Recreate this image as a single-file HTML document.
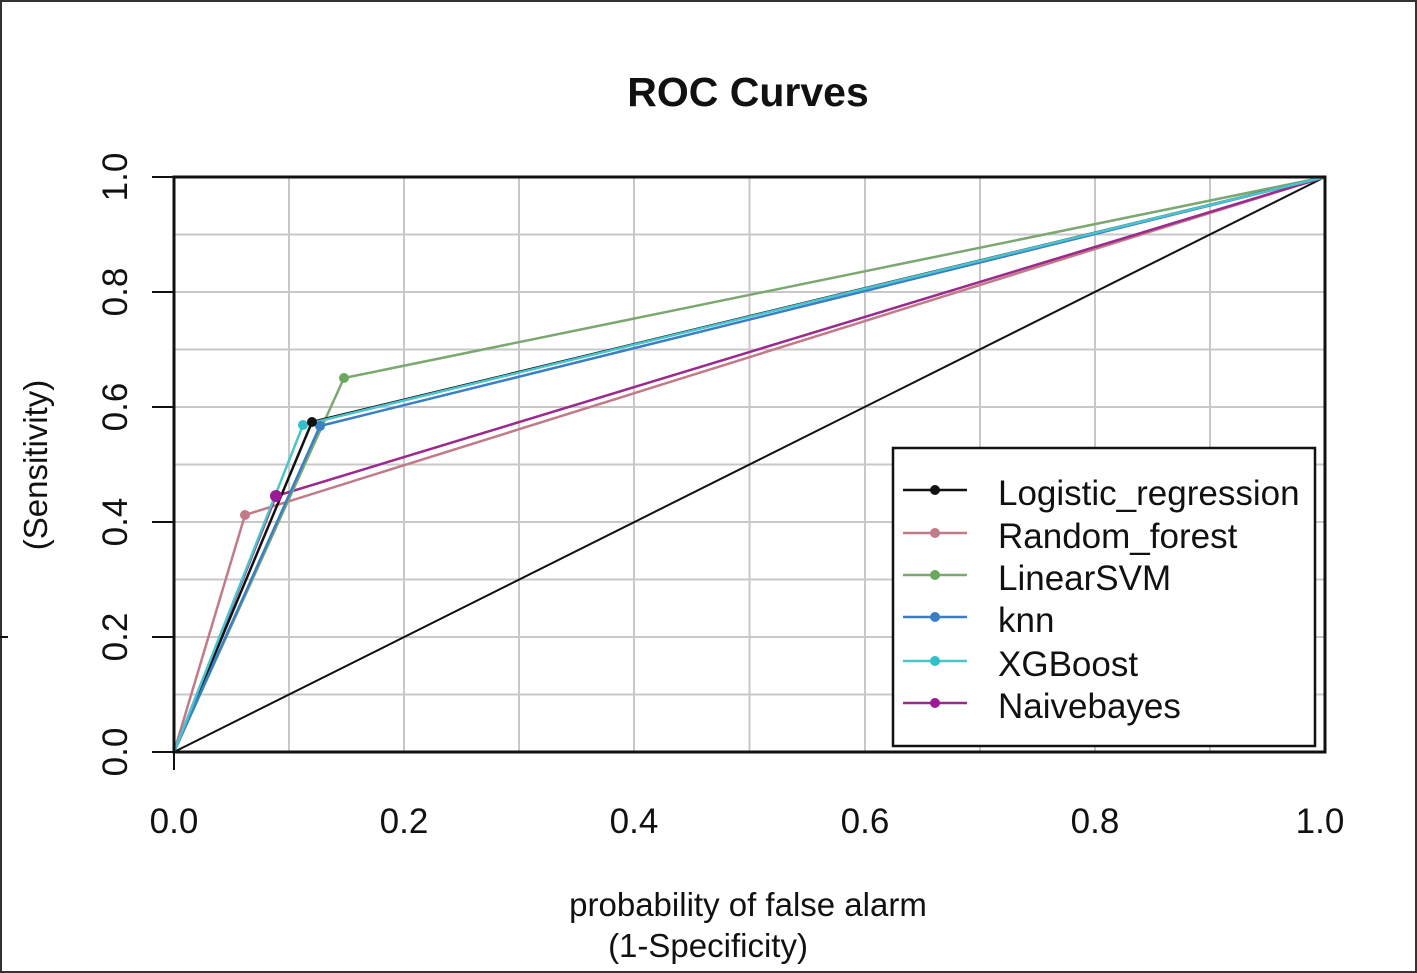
<!DOCTYPE html>
<html><head><meta charset="utf-8"><style>
html,body{margin:0;padding:0;background:#fff}
svg{display:block}
text{font-family:"Liberation Sans",Arial,sans-serif;fill:#111}
</style></head><body>
<svg width="1417" height="973" viewBox="0 0 1417 973" xmlns="http://www.w3.org/2000/svg">
<rect x="1" y="1" width="1415" height="971" fill="#fff" stroke="#333" stroke-width="2"/>
<text x="748" y="106" font-size="41" font-weight="bold" text-anchor="middle">ROC Curves</text>
<g stroke="#c8c8c8" stroke-width="2">
<line x1="289" y1="177" x2="289" y2="752"/><line x1="404" y1="177" x2="404" y2="752"/>
<line x1="519" y1="177" x2="519" y2="752"/><line x1="634" y1="177" x2="634" y2="752"/>
<line x1="749.5" y1="177" x2="749.5" y2="752"/><line x1="865" y1="177" x2="865" y2="752"/>
<line x1="980" y1="177" x2="980" y2="752"/><line x1="1095" y1="177" x2="1095" y2="752"/>
<line x1="1210" y1="177" x2="1210" y2="752"/>
<line x1="174" y1="234.5" x2="1325" y2="234.5"/><line x1="174" y1="292" x2="1325" y2="292"/>
<line x1="174" y1="349.5" x2="1325" y2="349.5"/><line x1="174" y1="407" x2="1325" y2="407"/>
<line x1="174" y1="464.5" x2="1325" y2="464.5"/><line x1="174" y1="522" x2="1325" y2="522"/>
<line x1="174" y1="579.5" x2="1325" y2="579.5"/><line x1="174" y1="637" x2="1325" y2="637"/>
<line x1="174" y1="694.5" x2="1325" y2="694.5"/>
</g>
<line x1="174" y1="752" x2="1325" y2="177" stroke="#111" stroke-width="2"/>
<g fill="none" stroke-width="2.5">
<polyline points="174,752 245,515 1325,177" stroke="#c27a88"/>
<polyline points="174,752 276,496 1325,177" stroke="#9b2a8c"/>
<polyline points="174,752 344,378 1325,177" stroke="#7aa870"/>
<polyline points="174,752 312,422 1325,177" stroke="#111"/>
<polyline points="174,752 320,426 1325,177" stroke="#3a7fc4"/>
<polyline points="174,752 303,425 1325,177" stroke="#4cc4cc"/>
</g>
<circle cx="245" cy="515" r="5" fill="#c27a88"/>
<circle cx="276" cy="496" r="6" fill="#9b1a96"/>
<circle cx="344" cy="378" r="5" fill="#6aa860"/>
<circle cx="320" cy="426" r="5" fill="#3a7fc4"/>
<circle cx="303" cy="425" r="5" fill="#30c0c8"/>
<circle cx="312" cy="422" r="5" fill="#111"/>
<rect x="174" y="177" width="1151" height="575" fill="none" stroke="#111" stroke-width="3"/>
<g stroke="#111" stroke-width="2">
<line x1="152" y1="177" x2="174" y2="177"/><line x1="152" y1="292" x2="174" y2="292"/>
<line x1="152" y1="407" x2="174" y2="407"/><line x1="152" y1="522" x2="174" y2="522"/>
<line x1="152" y1="637" x2="174" y2="637"/><line x1="152" y1="752" x2="174" y2="752"/>
<line x1="174" y1="752" x2="174" y2="770"/>
<line x1="0" y1="637" x2="8" y2="637"/>
</g>
<g font-size="35" text-anchor="middle">
<text transform="translate(127,177) rotate(-90)">1.0</text>
<text transform="translate(127,292) rotate(-90)">0.8</text>
<text transform="translate(127,407) rotate(-90)">0.6</text>
<text transform="translate(127,522) rotate(-90)">0.4</text>
<text transform="translate(127,637) rotate(-90)">0.2</text>
<text transform="translate(127,752) rotate(-90)">0.0</text>
<text x="174" y="833">0.0</text><text x="404" y="833">0.2</text>
<text x="634" y="833">0.4</text><text x="865" y="833">0.6</text>
<text x="1095" y="833">0.8</text><text x="1320" y="833">1.0</text>
</g>
<g font-size="33" text-anchor="middle">
<text transform="translate(47,465) rotate(-90)">(Sensitivity)</text>
<text x="748" y="916">probability of false alarm</text>
<text x="708" y="957">(1-Specificity)</text>
</g>
<rect x="893" y="448" width="422" height="298" fill="#fff" stroke="#111" stroke-width="2.5"/>
<g stroke-width="2.5">
<line x1="903" y1="490" x2="967" y2="490" stroke="#111"/>
<line x1="903" y1="533" x2="967" y2="533" stroke="#c27a88"/>
<line x1="903" y1="575" x2="967" y2="575" stroke="#7aa870"/>
<line x1="903" y1="617" x2="967" y2="617" stroke="#3a7fc4"/>
<line x1="903" y1="661" x2="967" y2="661" stroke="#4cc4cc"/>
<line x1="903" y1="703" x2="967" y2="703" stroke="#9b2a8c"/>
</g>
<circle cx="935" cy="490" r="5" fill="#111"/>
<circle cx="935" cy="533" r="5" fill="#c27a88"/>
<circle cx="935" cy="575" r="5" fill="#6aa860"/>
<circle cx="935" cy="617" r="5" fill="#3a7fc4"/>
<circle cx="935" cy="661" r="5" fill="#30c0c8"/>
<circle cx="935" cy="703" r="5" fill="#9b1a96"/>
<g font-size="35">
<text x="998" y="505">Logistic_regression</text>
<text x="998" y="548">Random_forest</text>
<text x="998" y="590">LinearSVM</text>
<text x="998" y="632">knn</text>
<text x="998" y="676">XGBoost</text>
<text x="998" y="718">Naivebayes</text>
</g>
</svg>
</body></html>
